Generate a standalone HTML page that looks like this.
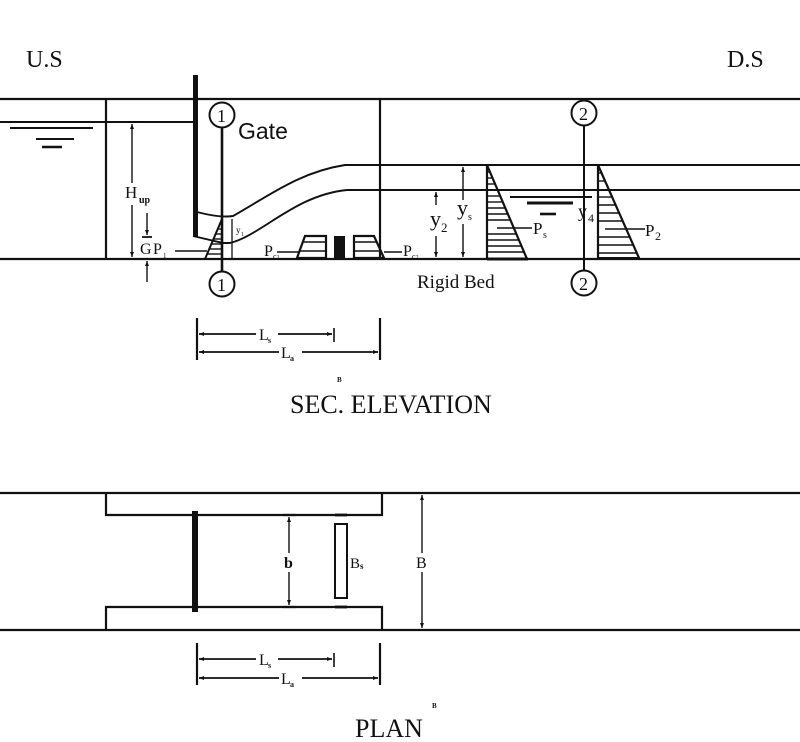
<!DOCTYPE html>
<html>
<head>
<meta charset="utf-8">
<style>
  html, body { margin: 0; padding: 0; background: #fff; }
  svg { display: block; }
  text { font-family: "Liberation Serif", "DejaVu Serif", serif; fill: #111; }
  .sans { font-family: "Liberation Sans", "DejaVu Sans", sans-serif; }
</style>
</head>
<body>
<svg width="800" height="742" viewBox="0 0 800 742" xmlns="http://www.w3.org/2000/svg">
  <defs>
    <marker id="ah" markerWidth="6" markerHeight="6" refX="5" refY="3" orient="auto" markerUnits="userSpaceOnUse">
      <path d="M0,1 L5,3 L0,5 Z" fill="#111"/>
    </marker>
  </defs>
  <rect width="800" height="742" fill="#fff"/>

  <!-- Titles -->
  <text x="26" y="67" font-size="24">U.S</text>
  <text x="727" y="67" font-size="24">D.S</text>

  <g stroke="#111" stroke-width="1.9" fill="none">
    <!-- ELEVATION main lines -->
    <line x1="0" y1="99" x2="800" y2="99" stroke-width="2.2"/>
    <line x1="0" y1="122" x2="194" y2="122"/>
    <line x1="0" y1="259" x2="800" y2="259" stroke-width="2.2"/>
    <line x1="106" y1="99" x2="106" y2="259" stroke-width="2.2"/>
    <line x1="380" y1="99" x2="380" y2="259" stroke-width="2.2"/>

    <!-- upstream water symbol -->
    <line x1="10" y1="128" x2="93" y2="128" stroke-width="2"/>
    <line x1="36" y1="139" x2="74" y2="139"/>
    <line x1="42" y1="147" x2="62" y2="147" stroke-width="2.4"/>

    <!-- water surfaces -->
    <path d="M197,212 Q220,218 233,216 C270,195 300,172 345,165 L800,165"/>
    <path d="M193,236 L223,243 L230,243 C262,235 295,195 347,190 L800,190"/>

    <!-- section 1 -->
    <line x1="222" y1="128" x2="222" y2="271" stroke-width="2.6"/>
    <circle cx="222" cy="115" r="12.5" stroke-width="2"/>
    <circle cx="222" cy="284" r="12.5" stroke-width="2"/>

    <!-- section 2 -->
    <line x1="584" y1="126" x2="584" y2="271" stroke-width="2"/>
    <circle cx="584" cy="113" r="12.5" stroke-width="2"/>
    <circle cx="584" cy="283" r="12.5" stroke-width="2"/>

    <!-- pressure triangle at 1 -->
    <path d="M222,219 L205,259" stroke-width="2"/>
    <g stroke-width="1.4">
      <line x1="219.9" y1="224" x2="222" y2="224"/>
      <line x1="217.7" y1="229" x2="222" y2="229"/>
      <line x1="215.6" y1="234" x2="222" y2="234"/>
      <line x1="213.5" y1="239" x2="222" y2="239"/>
      <line x1="211.4" y1="244" x2="222" y2="244"/>
      <line x1="209.3" y1="249" x2="222" y2="249"/>
      <line x1="207.1" y1="254" x2="222" y2="254"/>
    </g>

    <!-- y1 dim -->
    <line x1="232" y1="219" x2="232" y2="259" stroke-width="1.3"/>
    <line x1="229" y1="259" x2="240" y2="259" stroke-width="1.3"/>

    <!-- P1 leader -->
    <line x1="175" y1="251" x2="207" y2="251" stroke-width="1.4"/>

    <!-- H_up dim -->
    <line x1="132" y1="183" x2="132" y2="124" marker-end="url(#ah)" stroke-width="1.4"/>
    <line x1="132" y1="205" x2="132" y2="257" marker-end="url(#ah)" stroke-width="1.4"/>
    <line x1="130" y1="122" x2="146" y2="122" stroke-width="1.4"/>

    <!-- G dim -->
    <line x1="147" y1="213" x2="147" y2="235" marker-end="url(#ah)" stroke-width="1.4"/>
    <line x1="142" y1="237" x2="152" y2="237" stroke-width="1.8"/>
    <line x1="147" y1="282" x2="147" y2="261" marker-end="url(#ah)" stroke-width="1.4"/>

    <!-- sills -->
    <path d="M305,236 L326,236 L326,258 L297,258 Z" stroke-width="2.2"/>
    <line x1="303" y1="242" x2="326" y2="242" stroke-width="1.4"/>
    <line x1="300" y1="251" x2="326" y2="251" stroke-width="1.4"/>
    <path d="M354,236 L374,236 L384,258 L354,258 Z" stroke-width="2.2"/>
    <line x1="354" y1="242" x2="377" y2="242" stroke-width="1.4"/>
    <line x1="354" y1="251" x2="381" y2="251" stroke-width="1.4"/>
    <line x1="277" y1="252" x2="300" y2="252" stroke-width="1.4"/>
    <line x1="384" y1="252" x2="402" y2="252" stroke-width="1.4"/>

    <!-- y2 dim -->
    <line x1="436" y1="205" x2="436" y2="192" marker-end="url(#ah)" stroke-width="1.4"/>
    <line x1="436" y1="236" x2="436" y2="257" marker-end="url(#ah)" stroke-width="1.4"/>
    <!-- ys dim -->
    <line x1="463" y1="200" x2="463" y2="167" marker-end="url(#ah)" stroke-width="1.4"/>
    <line x1="463" y1="224" x2="463" y2="257" marker-end="url(#ah)" stroke-width="1.4"/>

    <!-- Ps triangle -->
    <path d="M487,165 L487,259 M487,165 L527,259" stroke-width="2.2"/>
    <line x1="487" y1="259" x2="528" y2="259" stroke-width="3"/>
    <g stroke-width="1.4">
      <line x1="487" y1="172" x2="490" y2="172"/>
      <line x1="487" y1="178" x2="492.5" y2="178"/>
      <line x1="487" y1="184" x2="495.1" y2="184"/>
      <line x1="487" y1="196" x2="500.2" y2="196"/>
      <line x1="487" y1="202" x2="502.7" y2="202"/>
      <line x1="487" y1="208" x2="505.3" y2="208"/>
      <line x1="487" y1="214" x2="507.8" y2="214"/>
      <line x1="487" y1="220" x2="510.4" y2="220"/>
      <line x1="487" y1="234" x2="516.3" y2="234"/>
      <line x1="487" y1="240" x2="518.9" y2="240"/>
      <line x1="487" y1="246" x2="521.5" y2="246"/>
      <line x1="487" y1="252" x2="524" y2="252"/>
    </g>
    <line x1="497" y1="228" x2="532" y2="228" stroke-width="1.4"/>

    <!-- downstream water symbol -->
    <line x1="510" y1="197" x2="592" y2="197"/>
    <line x1="527" y1="203" x2="573" y2="203" stroke-width="3"/>
    <line x1="540" y1="214" x2="556" y2="214" stroke-width="2.6"/>

    <!-- P2 triangle -->
    <path d="M598,165 L598,258 M598,165 L639,258" stroke-width="2.2"/>
    <line x1="598" y1="258.5" x2="640" y2="258.5" stroke-width="3"/>
    <g stroke-width="1.4">
      <line x1="598" y1="173" x2="601.5" y2="173"/>
      <line x1="598" y1="181" x2="605" y2="181"/>
      <line x1="598" y1="197" x2="612.1" y2="197"/>
      <line x1="598" y1="205" x2="615.6" y2="205"/>
      <line x1="598" y1="213" x2="619.2" y2="213"/>
      <line x1="598" y1="221" x2="622.7" y2="221"/>
      <line x1="598" y1="237" x2="629.7" y2="237"/>
      <line x1="598" y1="245" x2="633.3" y2="245"/>
      <line x1="598" y1="253" x2="636.8" y2="253"/>
    </g>
    <line x1="605" y1="229" x2="645" y2="229" stroke-width="1.4"/>

    <!-- Ls / La dims (elevation) -->
    <line x1="197" y1="318" x2="197" y2="360" stroke-width="2.2"/>
    <line x1="380" y1="318" x2="380" y2="360" stroke-width="2.2"/>
    <line x1="334" y1="328" x2="334" y2="342" stroke-width="1.6"/>
    <line x1="256" y1="334" x2="199" y2="334" marker-end="url(#ah)" stroke-width="1.7"/>
    <line x1="278" y1="334" x2="332" y2="334" marker-end="url(#ah)" stroke-width="1.7"/>
    <line x1="279" y1="352" x2="199" y2="352" marker-end="url(#ah)" stroke-width="1.7"/>
    <line x1="302" y1="352" x2="378" y2="352" marker-end="url(#ah)" stroke-width="1.7"/>

    <!-- PLAN -->
    <line x1="0" y1="493" x2="800" y2="493" stroke-width="2.2"/>
    <line x1="0" y1="630" x2="800" y2="630" stroke-width="2.2"/>
    <path d="M106,493 V515 H382 V493" stroke-width="2.2"/>
    <path d="M106,630 V607 H382 V630" stroke-width="2.2"/>

    <!-- b dim -->
    <line x1="289" y1="553" x2="289" y2="517" marker-end="url(#ah)" stroke-width="1.4"/>
    <line x1="289" y1="572" x2="289" y2="605" marker-end="url(#ah)" stroke-width="1.4"/>
    <line x1="283" y1="515" x2="296" y2="515" stroke-width="2.2"/>
    <line x1="283" y1="607" x2="296" y2="607" stroke-width="2.2"/>

    <!-- Bs rect -->
    <rect x="335" y="524" width="12" height="74" stroke-width="2"/>
    <line x1="335" y1="515" x2="347" y2="515" stroke-width="2.8"/>
    <line x1="335" y1="607" x2="347" y2="607" stroke-width="2.8"/>

    <!-- B dim -->
    <line x1="422" y1="553" x2="422" y2="495" marker-end="url(#ah)" stroke-width="1.4"/>
    <line x1="422" y1="572" x2="422" y2="628" marker-end="url(#ah)" stroke-width="1.4"/>

    <!-- Ls / La dims (plan) -->
    <line x1="197" y1="643" x2="197" y2="685" stroke-width="2.2"/>
    <line x1="380" y1="643" x2="380" y2="685" stroke-width="2.2"/>
    <line x1="334" y1="653" x2="334" y2="667" stroke-width="1.6"/>
    <line x1="256" y1="659" x2="199" y2="659" marker-end="url(#ah)" stroke-width="1.7"/>
    <line x1="278" y1="659" x2="332" y2="659" marker-end="url(#ah)" stroke-width="1.7"/>
    <line x1="279" y1="678" x2="199" y2="678" marker-end="url(#ah)" stroke-width="1.7"/>
    <line x1="302" y1="678" x2="378" y2="678" marker-end="url(#ah)" stroke-width="1.7"/>
  </g>

  <!-- filled shapes -->
  <rect x="193" y="75" width="5" height="162" fill="#111"/>
  <rect x="334" y="236" width="11" height="22" fill="#111"/>
  <rect x="192" y="511" width="6" height="101" fill="#111"/>

  <!-- Labels: elevation -->
  <text x="217" y="122" font-size="18">1</text>
  <text x="217" y="291" font-size="18">1</text>
  <text x="579" y="120" font-size="18">2</text>
  <text x="579" y="290" font-size="18">2</text>
  <text class="sans" x="238" y="139" font-size="23">Gate</text>

  <text x="125" y="198" font-size="17">H</text>
  <text x="139" y="203" font-size="10" font-weight="bold">up</text>
  <text x="140" y="254" font-size="16">G</text>
  <text x="153" y="254" font-size="16">P</text>
  <text x="163" y="258" font-size="7">1</text>
  <text x="236" y="233" font-size="9">y</text>
  <text x="241" y="236" font-size="6">1</text>

  <text x="264" y="256" font-size="16">P</text>
  <text x="273" y="259" font-size="8">c<tspan font-size="6">1</tspan></text>
  <text x="403" y="256" font-size="16">P</text>
  <text x="412" y="259" font-size="8">c<tspan font-size="6">2</tspan></text>

  <text x="430" y="226" font-size="22">y</text>
  <text x="441" y="232" font-size="13">2</text>
  <text x="457" y="215" font-size="22">y</text>
  <text x="468" y="220" font-size="10">s</text>
  <text x="533" y="234" font-size="17">P</text>
  <text x="543" y="238" font-size="10">s</text>
  <text x="578" y="217" font-size="18">y</text>
  <text x="588" y="222" font-size="12">4</text>
  <text x="645" y="236" font-size="17">P</text>
  <text x="655" y="240" font-size="12">2</text>

  <text x="417" y="288" font-size="19">Rigid Bed</text>

  <text x="259" y="340" font-size="16">L</text>
  <text x="268" y="343" font-size="8" font-weight="bold">s</text>
  <text x="281" y="358" font-size="16">L</text>
  <text x="290" y="361" font-size="8" font-weight="bold">a</text>
  <text x="337" y="382" font-size="7" font-weight="bold">B</text>
  <text x="290" y="413" font-size="26">SEC. ELEVATION</text>

  <!-- Labels: plan -->
  <text x="284" y="568" font-size="16" font-weight="bold">b</text>
  <text x="350" y="568" font-size="15">B</text>
  <text x="360" y="569" font-size="9" font-weight="bold">s</text>
  <text x="416" y="568" font-size="16">B</text>

  <text x="259" y="665" font-size="16">L</text>
  <text x="268" y="668" font-size="8" font-weight="bold">s</text>
  <text x="281" y="684" font-size="16">L</text>
  <text x="290" y="687" font-size="8" font-weight="bold">a</text>
  <text x="432" y="708" font-size="7" font-weight="bold">B</text>
  <text x="355" y="737" font-size="26">PLAN</text>
</svg>
</body>
</html>
